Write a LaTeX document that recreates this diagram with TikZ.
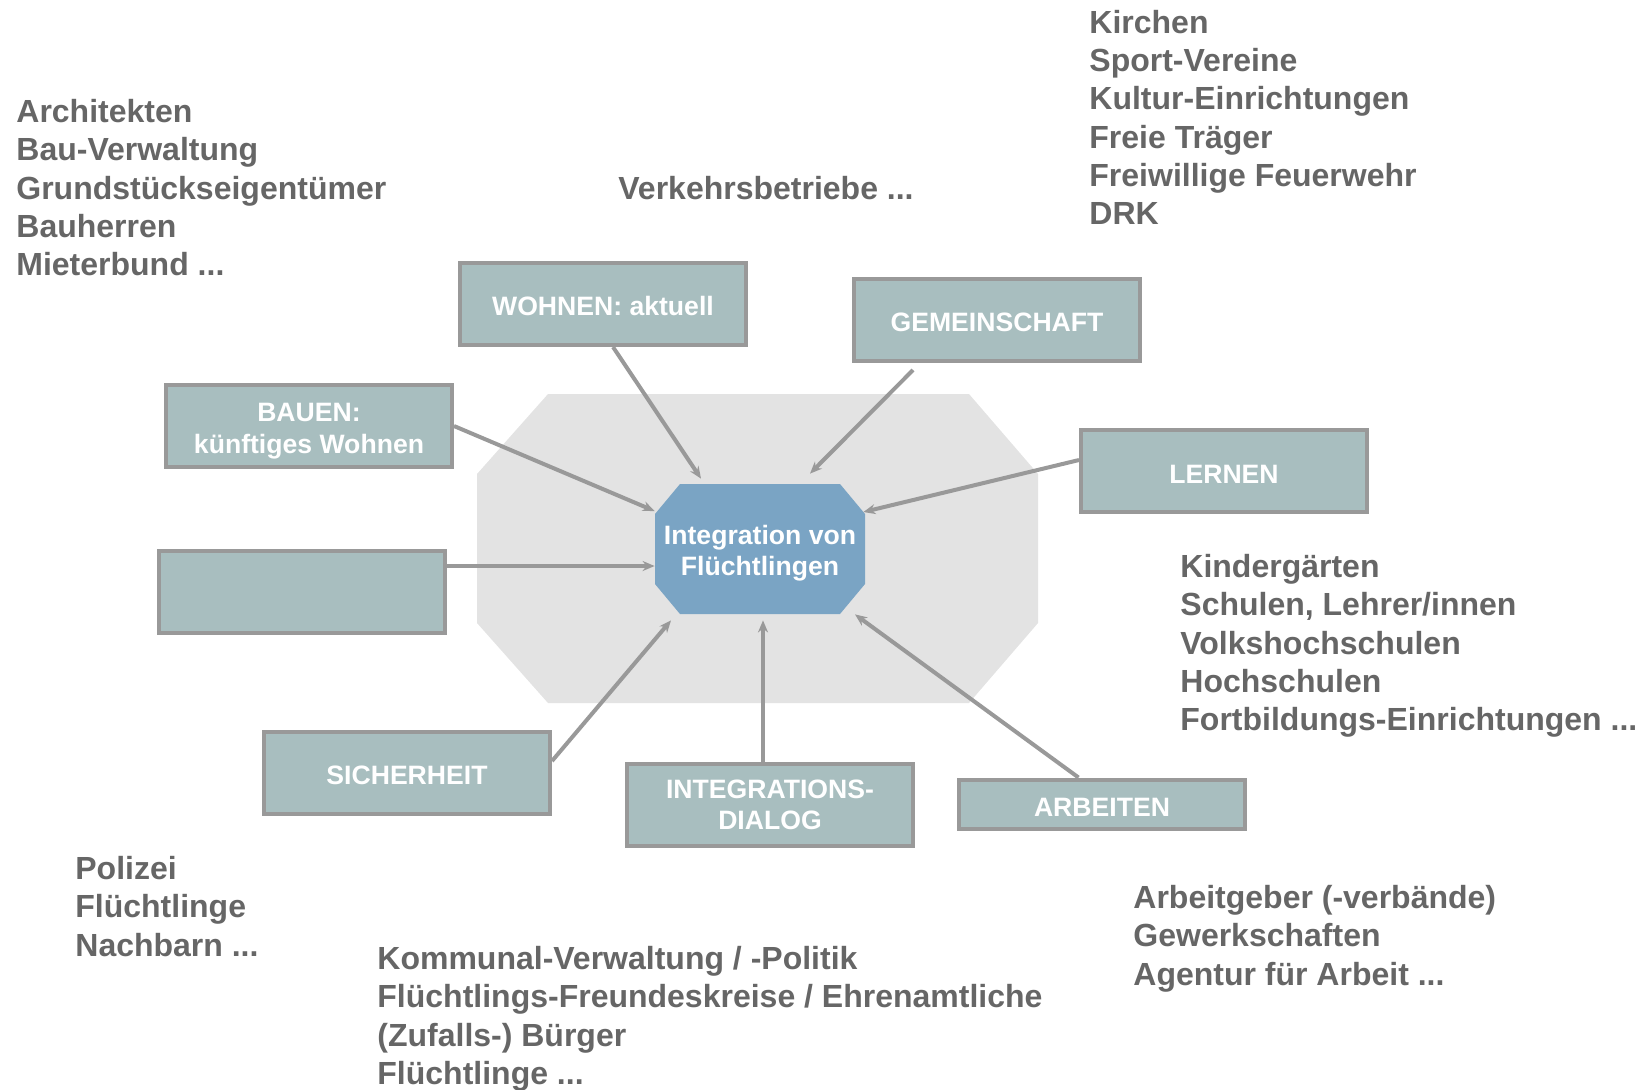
\documentclass[tikz,border=0pt]{standalone}
\usepackage{fontspec}
\setmainfont{Liberation Sans}
\usepackage{tikz}
\usetikzlibrary{arrows.meta}
\definecolor{tgrey}{HTML}{666666}
\definecolor{lgrey}{HTML}{999999}
\definecolor{bggrey}{HTML}{E3E3E3}
\definecolor{boxfill}{HTML}{A8BEBF}
\definecolor{hubblue}{HTML}{7AA4C4}

\begin{document}
\begin{tikzpicture}[x=0.5pt, y=-0.5pt,
  box/.style={draw=lgrey, fill=boxfill, line width=2pt, text=white, align=center,
              minimum width=143pt, minimum height=41pt, inner sep=2pt,
              font=\fontsize{13.3}{15.8}\selectfont\bfseries,
              execute at begin node={\rule{0pt}{12pt}}},
  hub/.style={rectangle, text=white, align=center,
              minimum width=105pt, minimum height=65pt, inner sep=0pt,
              font=\fontsize{13.3}{15.8}\selectfont\bfseries,
              path picture={\fill[hubblue]
                ([xshift=12.5pt]path picture bounding box.north west)
                -- ([xshift=-12.5pt]path picture bounding box.north east)
                -- ([yshift=-15pt]path picture bounding box.north east)
                -- ([yshift=15pt]path picture bounding box.south east)
                -- ([xshift=-12.5pt]path picture bounding box.south east)
                -- ([xshift=12.5pt]path picture bounding box.south west)
                -- ([yshift=15pt]path picture bounding box.south west)
                -- ([yshift=-15pt]path picture bounding box.north west) -- cycle;}},
  list/.style={anchor=north west, align=left, inner sep=0pt, text=tgrey,
               font=\fontsize{16}{19.1}\selectfont\bfseries},
  arr/.style={-{Stealth[length=6pt,width=5pt]}, line width=2pt, draw=lgrey}]
  \useasboundingbox (0,0) rectangle (1652,1089);
  % grey field behind the centre
  \fill[bggrey] (548,394) -- (969,394) -- (1038,474) -- (1038,623) -- (969,703)
    -- (548,703) -- (477,623) -- (477,474) -- cycle;
  \node[hub] (hub) at (760,549) {\rule{0pt}{13.7pt}Integration von\\Flüchtlingen};
  % the fields
  \node[box] (wohnen) at (603,304) {WOHNEN: aktuell};
  \node[box] (gemein) at (997,320) {GEMEINSCHAFT};
  \node[box] (bauen) at (309,426) {\rule{0pt}{14.5pt}BAUEN:\\künftiges Wohnen};
  \node[box] (leer) at (302,592) {};
  \node[box] (lernen) at (1224,471) {LERNEN};
  \node[box] (sicher) at (407,773) {SICHERHEIT};
  \node[box] (dialog) at (770,805) {INTEGRATIONS-\\DIALOG};
  \node[box, minimum height=24.5pt] (arbeit) at (1102,804) {ARBEITEN};
  % arrows to the centre
  \draw[arr] ([xshift=5pt]wohnen.south) -- ([xshift=-29.5pt,yshift=2.5pt]hub.north);
  \draw[arr] ([xshift=-42pt,yshift=-3.5pt]gemein.south) -- ([xshift=25pt,yshift=5pt]hub.north);
  \draw[arr] (bauen.east) -- ([yshift=19pt]hub.west);
  \draw[arr] ([yshift=13pt]leer.east) -- ([yshift=-8.5pt]hub.west);
  \draw[arr] ([yshift=5.5pt]lernen.west) -- ([xshift=-1pt,yshift=18.5pt]hub.east);
  \draw[arr] ([yshift=6pt]sicher.east) -- ([xshift=-44.5pt,yshift=-3pt]hub.south);
  \draw[arr] ([xshift=-3.5pt]dialog.north) -- ([xshift=1.5pt,yshift=-3pt]hub.south);
  \draw[arr] ([xshift=-11.75pt]arbeit.north) -- ([xshift=47.5pt]hub.south);
  % partners
  \node[list] (bau-p) at (16,99) {Architekten\\Bau-Verwaltung\\Grundstückseigentümer\\Bauherren\\Mieterbund ...};
  \node[list] (verk-p) at (618,176) {Verkehrsbetriebe ...};
  \node[list] (gem-p) at (1089,10) {Kirchen\\Sport-Vereine\\Kultur-Einrichtungen\\Freie Träger\\Freiwillige Feuerwehr\\DRK};
  \node[list] (lern-p) at (1180,554) {Kindergärten\\Schulen, Lehrer/innen\\Volkshochschulen\\Hochschulen\\Fortbildungs-Einrichtungen ...};
  \node[list] (arb-p) at (1133,885) {Arbeitgeber (-verbände)\\Gewerkschaften\\Agentur für Arbeit ...};
  \node[list] (sich-p) at (75,856) {Polizei\\Flüchtlinge\\Nachbarn ...};
  \node[list] (dial-p) at (377,946) {Kommunal-Verwaltung / -Politik\\Flüchtlings-Freundeskreise / Ehrenamtliche\\(Zufalls-) Bürger\\Flüchtlinge ...};
\end{tikzpicture}
\end{document}
